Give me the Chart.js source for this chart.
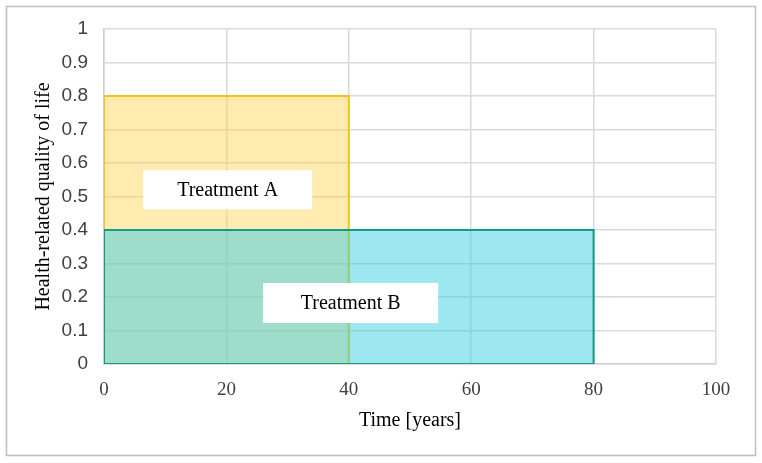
<!DOCTYPE html>
<html>
<head>
<meta charset="utf-8">
<script src="https://cdn.jsdelivr.net/npm/chart.js@4.4.1/dist/chart.umd.min.js"></script>
<style>
  html, body { margin: 0; padding: 0; background: #fff; }
  #wrap { position: relative; width: 762px; height: 463px; }
</style>
</head>
<body>
<div id="wrap"><canvas id="chartCanvas" width="762" height="463"></canvas></div>
<script>
// data
const treatments = ['Treatment A', 'Treatment B'];
const durations = [40, 80];        // years
const utilities = [0.8, 0.4];      // health-related quality of life
const xTickValues = [0, 20, 40, 60, 80, 100];
const yTickValues = [0, 0.1, 0.2, 0.3, 0.4, 0.5, 0.6, 0.7, 0.8, 0.9, 1];
const yTickLabels = ['0', '0.1', '0.2', '0.3', '0.4', '0.5', '0.6', '0.7', '0.8', '0.9', '1'];

const fills = ['rgba(255, 210, 80, 0.45)', 'rgba(60, 208, 226, 0.5)'];
const borders = ['#f5c21b', '#109b85'];
// where each label box sits, in data units
const labelSpots = [{ x: 20.2, y: 0.52 }, { x: 40.3, y: 0.182 }];

const serif = '"Liberation Serif", "Times New Roman", serif';

// three sides of the box, filled down to y = 0
function boxSides(w, h) {
  return [{ x: 0, y: 0 }, { x: 0, y: h }, { x: w, y: h }, { x: w, y: 0 }];
}
// the bottom side
function boxBase(w) {
  return [{ x: 0, y: 0 }, { x: w, y: 0 }];
}

const datasets = [];
treatments.forEach((name, i) => {
  const order = (treatments.length - i) * 2;
  datasets.push({
    label: name,
    data: boxSides(durations[i], utilities[i]),
    fill: 'origin',
    backgroundColor: fills[i],
    borderColor: borders[i],
    borderWidth: 2,
    pointRadius: 0,
    tension: 0,
    order: order
  });
  datasets.push({
    label: name + ' base',
    data: boxBase(durations[i]),
    fill: false,
    borderColor: borders[i],
    borderWidth: 2,
    pointRadius: 0,
    order: order - 1
  });
});

const frame = {
  id: 'frame',
  beforeDraw(chart) {
    const c = chart.ctx;
    c.save();
    c.fillStyle = '#fff';
    c.fillRect(0, 0, chart.width, chart.height);
    c.strokeStyle = '#bfbfbf';
    c.lineWidth = 1.5;
    c.strokeRect(6.5, 6.5, 749, 449);
    c.restore();
  }
};

const labelBoxes = {
  id: 'labelBoxes',
  afterDatasetsDraw(chart) {
    const c = chart.ctx;
    const xs = chart.scales.x, ys = chart.scales.y;
    const sizes = [{ w: 169, h: 39 }, { w: 175, h: 40 }];
    c.save();
    c.font = '20px ' + serif;
    c.textAlign = 'center';
    c.textBaseline = 'middle';
    treatments.forEach((name, i) => {
      const px = xs.getPixelForValue(labelSpots[i].x);
      const py = ys.getPixelForValue(labelSpots[i].y);
      c.fillStyle = '#fff';
      c.fillRect(px - sizes[i].w / 2, py - sizes[i].h / 2, sizes[i].w, sizes[i].h);
      c.fillStyle = '#000';
      c.fillText(name, px, py + 1);
    });
    c.restore();
  }
};

new Chart(document.getElementById('chartCanvas'), {
  type: 'line',
  data: { datasets },
  plugins: [frame, labelBoxes],
  options: {
    responsive: false,
    animation: false,
    layout: { padding: { top: 29, right: 46, bottom: 0, left: 0 } },
    plugins: { legend: { display: false }, tooltip: { enabled: false } },
    scales: {
      x: {
        type: 'linear', min: 0, max: 100,
        afterBuildTicks: s => { s.ticks = xTickValues.map(v => ({ value: v })); },
        afterFit: s => { s.height = 99; },
        grid: { color: '#d9d9d9', lineWidth: 1.5, drawTicks: false },
        border: { color: '#d0d0d0', width: 1.5 },
        ticks: {
          padding: 15, color: '#404040', maxRotation: 0,
          font: { family: serif, size: 19 }
        },
        title: {
          display: true, text: 'Time [years]', color: '#000',
          font: { family: serif, size: 20 },
          padding: { top: 0, bottom: 30 }
        }
      },
      y: {
        type: 'linear', min: 0, max: 1,
        afterBuildTicks: s => { s.ticks = yTickValues.map(v => ({ value: v })); },
        afterFit: s => { s.width = 104; },
        grid: { color: '#d9d9d9', lineWidth: 1.5, drawTicks: false },
        border: { color: '#d0d0d0', width: 1.5 },
        ticks: {
          padding: 16, color: '#404040',
          font: { family: '"Liberation Sans", Arial, sans-serif', size: 19 },
          callback: (v, i) => yTickLabels[i]
        },
        title: {
          display: true, text: 'Health-related quality of life', color: '#000',
          font: { family: serif, size: 20 },
          padding: { top: 32, bottom: 0 }
        }
      }
    }
  }
});
</script>
</body>
</html>
